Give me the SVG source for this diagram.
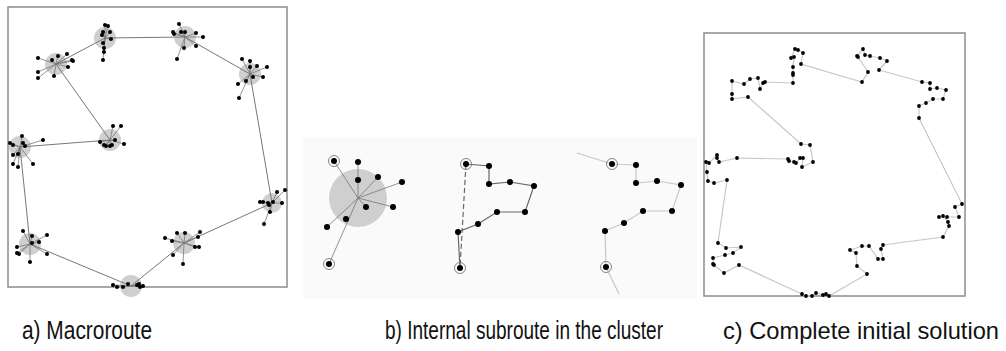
<svg xmlns="http://www.w3.org/2000/svg" width="1006" height="351" viewBox="0 0 1006 351">
<style>
.frame{fill:none;stroke:#8c8c8c;stroke-width:1.5}
.halo{fill:#cfcfcf}
.spoke{fill:none;stroke:#777;stroke-width:0.8}
.macro{fill:none;stroke:#777;stroke-width:1}
.d{fill:#000}
.ring{fill:none;stroke:#777;stroke-width:0.9}
.sub{fill:none;stroke:#666;stroke-width:1.2}
.light{fill:none;stroke:#c8c8c8;stroke-width:1.2}
.lbl{font-family:"Liberation Sans",Arial,sans-serif;font-size:25px;fill:#111}
</style>
<rect width="1006" height="351" fill="#fff"/>

<!-- Panel a -->
<g id="panel-a">
<rect class="frame" x="8" y="7" width="279" height="280"/>
<g id="a-halos">
<circle class="halo" cx="105" cy="38" r="11"/>
<circle class="halo" cx="56" cy="64" r="11"/>
<circle class="halo" cx="185" cy="37" r="11"/>
<circle class="halo" cx="250" cy="74" r="11"/>
<circle class="halo" cx="110" cy="140" r="11"/>
<circle class="halo" cx="20" cy="147" r="11"/>
<circle class="halo" cx="272" cy="203" r="10"/>
<circle class="halo" cx="184" cy="243" r="11"/>
<circle class="halo" cx="30" cy="244" r="11"/>
<circle class="halo" cx="131" cy="286" r="11"/>
</g>
<g id="a-connectors">
<path class="macro" d="M56 64L105 38L185 37L250 74L272 203L184 243L131 286L30 244L20 147L110 140Z"/>
<path class="spoke" d="M105 38L105 25M105 38L108 26M105 38L103 32M105 38L110 32M105 38L102 35M105 38L111 39M105 38L103 43M105 38L104 48M105 38L104 52M105 38L103 60
M56 64L38 58M56 64L52 60M56 64L58 56M56 64L67 54M56 64L72 60M56 64L73 61M56 64L68 67M56 64L54 76M56 64L38 72M56 64L38 78
M185 37L179 24M185 37L173 32M185 37L174 34M185 37L181 32M185 37L185 32M185 37L196 33M185 37L203 37M185 37L196 46M185 37L184 48M185 37L177 59
M250 74L242 59M250 74L250 61M250 74L250 67M250 74L257 66M250 74L267 67M250 74L263 77M250 74L253 77M250 74L246 81M250 74L238 84M250 74L239 98
M110 140L113 126M110 140L121 126M110 140L115 140M110 140L100 142M110 140L106 146M110 140L110 146M110 140L112 145M110 140L124 144M110 140L104 145
M20 147L22 136M20 147L43 140M20 147L10 143M20 147L13 145M20 147L23 143M20 147L25 146M20 147L13 155M20 147L18 154M20 147L13 164M20 147L33 164M20 147L18 167
M272 203L260 202M272 203L263 202M272 203L268 203M272 203L269 205M272 203L273 202M272 203L282 203M272 203L277 192M272 203L285 190M272 203L270 212M272 203L264 224
M184 243L165 238M184 243L172 241M184 243L177 233M184 243L185 233M184 243L200 232M184 243L198 237M184 243L195 247M184 243L199 247M184 243L173 255M184 243L183 264
M30 244L23 231M30 244L32 236M30 244L47 235M30 244L32 243M30 244L17 247M30 244L17 253M30 244L19 254M30 244L47 254M30 244L30 262M30 244L39 242
M131 286L113 285M131 286L117 287M131 286L123 287M131 286L128 284M131 286L137 285M131 286L140 287M131 286L143 286M131 286L139 284"/>
</g>
<g id="a-dots" class="d">
<circle cx="105" cy="25" r="2"/><circle cx="108" cy="26" r="2"/><circle cx="103" cy="32" r="2"/><circle cx="110" cy="32" r="2"/><circle cx="102" cy="35" r="2"/><circle cx="111" cy="39" r="2"/><circle cx="103" cy="43" r="2"/><circle cx="104" cy="48" r="2"/><circle cx="104" cy="52" r="2"/><circle cx="103" cy="60" r="2"/>
<circle cx="38" cy="58" r="2"/><circle cx="52" cy="60" r="2"/><circle cx="58" cy="56" r="2"/><circle cx="67" cy="54" r="2"/><circle cx="72" cy="60" r="2"/><circle cx="73" cy="61" r="2"/><circle cx="68" cy="67" r="2"/><circle cx="54" cy="76" r="2"/><circle cx="38" cy="72" r="2"/><circle cx="38" cy="78" r="2"/>
<circle cx="179" cy="24" r="2"/><circle cx="173" cy="32" r="2"/><circle cx="174" cy="34" r="2"/><circle cx="181" cy="32" r="2"/><circle cx="185" cy="32" r="2"/><circle cx="196" cy="33" r="2"/><circle cx="203" cy="37" r="2"/><circle cx="196" cy="46" r="2"/><circle cx="184" cy="48" r="2"/><circle cx="177" cy="59" r="2"/>
<circle cx="242" cy="59" r="2"/><circle cx="250" cy="61" r="2"/><circle cx="250" cy="67" r="2"/><circle cx="257" cy="66" r="2"/><circle cx="267" cy="67" r="2"/><circle cx="263" cy="77" r="2"/><circle cx="253" cy="77" r="2"/><circle cx="246" cy="81" r="2"/><circle cx="238" cy="84" r="2"/><circle cx="239" cy="98" r="2"/>
<circle cx="113" cy="126" r="2"/><circle cx="121" cy="126" r="2"/><circle cx="115" cy="140" r="2"/><circle cx="100" cy="142" r="2"/><circle cx="106" cy="146" r="2"/><circle cx="110" cy="146" r="2"/><circle cx="112" cy="145" r="2"/><circle cx="124" cy="144" r="2"/><circle cx="104" cy="145" r="2"/>
<circle cx="22" cy="136" r="2"/><circle cx="43" cy="140" r="2"/><circle cx="10" cy="143" r="2"/><circle cx="13" cy="145" r="2"/><circle cx="23" cy="143" r="2"/><circle cx="25" cy="146" r="2"/><circle cx="13" cy="155" r="2"/><circle cx="18" cy="154" r="2"/><circle cx="13" cy="164" r="2"/><circle cx="33" cy="164" r="2"/><circle cx="18" cy="167" r="2"/>
<circle cx="260" cy="202" r="2"/><circle cx="263" cy="202" r="2"/><circle cx="268" cy="203" r="2"/><circle cx="269" cy="205" r="2"/><circle cx="273" cy="202" r="2"/><circle cx="282" cy="203" r="2"/><circle cx="277" cy="192" r="2"/><circle cx="285" cy="190" r="2"/><circle cx="270" cy="212" r="2"/><circle cx="264" cy="224" r="2"/>
<circle cx="165" cy="238" r="2"/><circle cx="172" cy="241" r="2"/><circle cx="177" cy="233" r="2"/><circle cx="185" cy="233" r="2"/><circle cx="200" cy="232" r="2"/><circle cx="198" cy="237" r="2"/><circle cx="195" cy="247" r="2"/><circle cx="199" cy="247" r="2"/><circle cx="173" cy="255" r="2"/><circle cx="183" cy="264" r="2"/>
<circle cx="23" cy="231" r="2"/><circle cx="32" cy="236" r="2"/><circle cx="47" cy="235" r="2"/><circle cx="32" cy="243" r="2"/><circle cx="17" cy="247" r="2"/><circle cx="17" cy="253" r="2"/><circle cx="19" cy="254" r="2"/><circle cx="47" cy="254" r="2"/><circle cx="30" cy="262" r="2"/><circle cx="39" cy="242" r="2"/>
<circle cx="113" cy="285" r="2"/><circle cx="117" cy="287" r="2"/><circle cx="123" cy="287" r="2"/><circle cx="128" cy="284" r="2"/><circle cx="137" cy="285" r="2"/><circle cx="140" cy="287" r="2"/><circle cx="143" cy="286" r="2"/><circle cx="139" cy="284" r="2"/>
</g>
</g>

<!-- Panel b -->
<g id="panel-b">
<rect x="303" y="137" width="394" height="162" fill="#fafafa"/>
<g id="b1">
<circle class="halo" cx="358" cy="198" r="29"/>
<path class="spoke" d="M358 198L334 161M358 198L358 162M358 198L378 177M358 198L402 182M358 198L393 207M358 198L366 207M358 198L327 227M358 198L329 264"/>
<g class="d">
<circle cx="334" cy="161" r="3"/><circle cx="358" cy="162" r="3"/><circle cx="358" cy="180" r="3"/><circle cx="378" cy="177" r="3"/><circle cx="402" cy="182" r="3"/><circle cx="393" cy="207" r="3"/><circle cx="366" cy="207" r="3"/><circle cx="346" cy="219" r="3"/><circle cx="327" cy="227" r="3"/><circle cx="329" cy="264" r="3"/>
</g>
<circle class="ring" cx="334" cy="161" r="5.5"/><circle class="ring" cx="329" cy="264" r="5.5"/>
</g>
<g id="b2">
<path class="sub" d="M466 164L489 166L489 184L510 182L534 186L525 212L497 212L478 224L458 232L460 268"/>
<path class="sub" d="M466 164L460 268" stroke-dasharray="5,3"/>
<g class="d">
<circle cx="466" cy="164" r="3"/><circle cx="489" cy="166" r="3"/><circle cx="489" cy="184" r="3"/><circle cx="510" cy="182" r="3"/><circle cx="534" cy="186" r="3"/><circle cx="525" cy="212" r="3"/><circle cx="497" cy="212" r="3"/><circle cx="478" cy="224" r="3"/><circle cx="458" cy="232" r="3"/><circle cx="460" cy="268" r="3"/>
</g>
<circle class="ring" cx="466" cy="164" r="5.5"/><circle class="ring" cx="460" cy="268" r="5.5"/>
</g>
<g id="b3">
<path class="light" d="M577 153L612 164L636 165L636 183L657 181L681 185L672 211L643 211L624 223L605 231L606 267L619 294"/>
<g class="d">
<circle cx="612" cy="164" r="3"/><circle cx="636" cy="165" r="3"/><circle cx="636" cy="183" r="3"/><circle cx="657" cy="181" r="3"/><circle cx="681" cy="185" r="3"/><circle cx="672" cy="211" r="3"/><circle cx="643" cy="211" r="3"/><circle cx="624" cy="223" r="3"/><circle cx="605" cy="231" r="3"/><circle cx="606" cy="267" r="3"/>
</g>
<circle class="ring" cx="612" cy="164" r="5.5"/><circle class="ring" cx="606" cy="267" r="5.5"/>
</g>
</g>

<!-- Panel c -->
<g id="panel-c">
<rect class="frame" x="704" y="33" width="261" height="263"/>
<g id="c-connectors">
<path class="light" d="M802 294L806 296L812 296L816 293L823 295L826 294L829 296L867 274L857 266L856 253L850 250L862 246L869 246L878 259L883 259L881 249L883 245L943 237L949 226L948 222L943 216L939 217L947 217L959 217L955 207L962 204L919 118L919 106L926 103L933 99L943 99L946 90L937 88L930 89L930 83L922 82L879 70L887 61L880 58L870 56L865 55L863 49L857 56L858 57L868 72L862 82L801 64L803 53L798 50L795 49L791 58L794 57L793 67L793 73L793 75L793 83L765 82L763 83L760 89L758 78L750 79L744 84L732 81L732 94L732 99L748 97L801 144L810 145L813 162L802 167L803 158L800 158L796 163L794 162L789 161L788 159L737 158L719 162L717 158L717 155L709 163L706 162L707 172L708 181L714 183L727 180L718 243L726 248L741 247L733 253L725 255L713 258L713 264L714 265L724 273L739 265Z"/>
</g>
<g id="c-dots" class="d">
<circle cx="802" cy="294" r="1.9"/><circle cx="806" cy="296" r="1.9"/><circle cx="812" cy="296" r="1.9"/><circle cx="816" cy="293" r="1.9"/><circle cx="823" cy="295" r="1.9"/><circle cx="826" cy="294" r="1.9"/><circle cx="829" cy="296" r="1.9"/>
<circle cx="867" cy="274" r="1.9"/><circle cx="857" cy="266" r="1.9"/><circle cx="856" cy="253" r="1.9"/><circle cx="850" cy="250" r="1.9"/><circle cx="862" cy="246" r="1.9"/><circle cx="869" cy="246" r="1.9"/><circle cx="878" cy="259" r="1.9"/><circle cx="883" cy="259" r="1.9"/><circle cx="881" cy="249" r="1.9"/><circle cx="883" cy="245" r="1.9"/>
<circle cx="943" cy="237" r="1.9"/><circle cx="949" cy="226" r="1.9"/><circle cx="948" cy="222" r="1.9"/><circle cx="943" cy="216" r="1.9"/><circle cx="939" cy="217" r="1.9"/><circle cx="947" cy="217" r="1.9"/><circle cx="959" cy="217" r="1.9"/><circle cx="955" cy="207" r="1.9"/><circle cx="962" cy="204" r="1.9"/>
<circle cx="919" cy="118" r="1.9"/><circle cx="919" cy="106" r="1.9"/><circle cx="926" cy="103" r="1.9"/><circle cx="933" cy="99" r="1.9"/><circle cx="943" cy="99" r="1.9"/><circle cx="946" cy="90" r="1.9"/><circle cx="937" cy="88" r="1.9"/><circle cx="930" cy="89" r="1.9"/><circle cx="930" cy="83" r="1.9"/><circle cx="922" cy="82" r="1.9"/>
<circle cx="879" cy="70" r="1.9"/><circle cx="887" cy="61" r="1.9"/><circle cx="880" cy="58" r="1.9"/><circle cx="870" cy="56" r="1.9"/><circle cx="865" cy="55" r="1.9"/><circle cx="863" cy="49" r="1.9"/><circle cx="857" cy="56" r="1.9"/><circle cx="858" cy="57" r="1.9"/><circle cx="868" cy="72" r="1.9"/><circle cx="862" cy="82" r="1.9"/>
<circle cx="801" cy="64" r="1.9"/><circle cx="803" cy="53" r="1.9"/><circle cx="798" cy="50" r="1.9"/><circle cx="795" cy="49" r="1.9"/><circle cx="791" cy="58" r="1.9"/><circle cx="794" cy="57" r="1.9"/><circle cx="793" cy="67" r="1.9"/><circle cx="793" cy="73" r="1.9"/><circle cx="793" cy="75" r="1.9"/><circle cx="793" cy="83" r="1.9"/>
<circle cx="765" cy="82" r="1.9"/><circle cx="763" cy="83" r="1.9"/><circle cx="760" cy="89" r="1.9"/><circle cx="758" cy="78" r="1.9"/><circle cx="750" cy="79" r="1.9"/><circle cx="744" cy="84" r="1.9"/><circle cx="732" cy="81" r="1.9"/><circle cx="732" cy="94" r="1.9"/><circle cx="732" cy="99" r="1.9"/><circle cx="748" cy="97" r="1.9"/>
<circle cx="801" cy="144" r="1.9"/><circle cx="810" cy="145" r="1.9"/><circle cx="813" cy="162" r="1.9"/><circle cx="802" cy="167" r="1.9"/><circle cx="803" cy="158" r="1.9"/><circle cx="800" cy="158" r="1.9"/><circle cx="796" cy="163" r="1.9"/><circle cx="794" cy="162" r="1.9"/><circle cx="789" cy="161" r="1.9"/><circle cx="788" cy="159" r="1.9"/>
<circle cx="737" cy="158" r="1.9"/><circle cx="719" cy="162" r="1.9"/><circle cx="717" cy="158" r="1.9"/><circle cx="717" cy="155" r="1.9"/><circle cx="709" cy="163" r="1.9"/><circle cx="706" cy="162" r="1.9"/><circle cx="707" cy="172" r="1.9"/><circle cx="708" cy="181" r="1.9"/><circle cx="714" cy="183" r="1.9"/><circle cx="727" cy="180" r="1.9"/>
<circle cx="718" cy="243" r="1.9"/><circle cx="726" cy="248" r="1.9"/><circle cx="741" cy="247" r="1.9"/><circle cx="733" cy="253" r="1.9"/><circle cx="725" cy="255" r="1.9"/><circle cx="713" cy="258" r="1.9"/><circle cx="713" cy="264" r="1.9"/><circle cx="714" cy="265" r="1.9"/><circle cx="724" cy="273" r="1.9"/><circle cx="739" cy="265" r="1.9"/>
</g>
</g>

<g id="labels">
<text class="lbl" x="22" y="339" textLength="130" lengthAdjust="spacingAndGlyphs">a) Macroroute</text>
<text class="lbl" x="385" y="339" textLength="278" lengthAdjust="spacingAndGlyphs">b) Internal subroute in the cluster</text>
<text class="lbl" x="723" y="339" font-size="24" textLength="276" lengthAdjust="spacingAndGlyphs" style="font-size:24px">c) Complete initial solution</text>
</g>
</svg>
